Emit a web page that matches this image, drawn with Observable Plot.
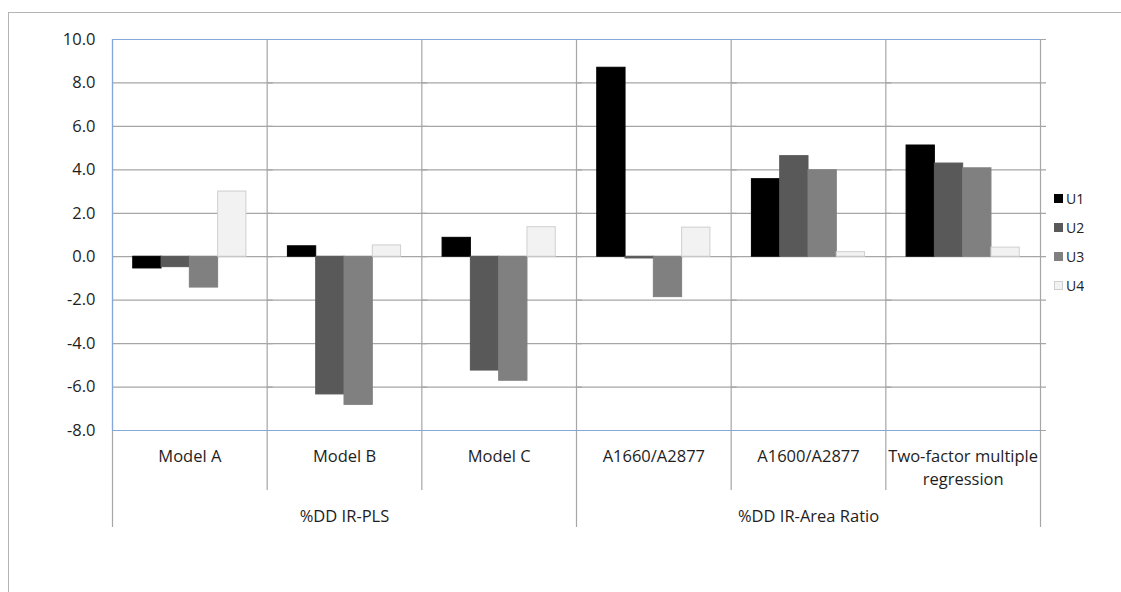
<!DOCTYPE html>
<html><head><meta charset="utf-8">
<script src="https://cdn.jsdelivr.net/npm/d3@7"></script>
<script src="https://cdn.jsdelivr.net/npm/@observablehq/plot@0.6"></script>
<style>
html,body{margin:0;padding:0;background:#fff;overflow:hidden;}
#wrap{position:relative;width:1121px;height:592px;overflow:hidden;font-family:"Open Sans",sans-serif;}
#border{position:absolute;left:8px;top:12px;width:1300px;height:800px;border:1px solid #b4b4b4;box-sizing:border-box;}
#chart{position:absolute;left:0;top:0;}
#legend{position:absolute;left:1054px;top:184px;}
.lg-swatches{margin:0 !important;padding:0 !important;min-height:0 !important;}
.lg-swatch{height:29px;display:flex;align-items:center;padding:0 !important;font-size:14px;color:#222;font-family:"Open Sans",sans-serif;}
.lg-swatch svg{margin-right:3px !important;}
.lg-swatch:last-child svg{outline:1px solid #cfcfcf;outline-offset:-1px;}
</style></head>
<body><div id="wrap"><div id="border"></div><div id="chart"></div><div id="legend"></div></div>
<script>
// ---- data ----
const categories = ["Model A", "Model B", "Model C", "A1660/A2877", "A1600/A2877", "Two-factor multiple regression"];
const categoryLabels = ["Model A", "Model B", "Model C", "A1660/A2877", "A1600/A2877", "Two-factor multiple\nregression"];
const groupOf = ["%DD IR-PLS", "%DD IR-PLS", "%DD IR-PLS", "%DD IR-Area Ratio", "%DD IR-Area Ratio", "%DD IR-Area Ratio"];
const series = ["U1", "U2", "U3", "U4"];
const U1 = [-0.54, 0.48, 0.87, 8.70, 3.57, 5.12];
const U2 = [-0.48, -6.34, -5.24, -0.08, 4.63, 4.29];
const U3 = [-1.42, -6.82, -5.71, -1.86, 3.98, 4.07];
const U4 = [3.00, 0.52, 1.36, 1.34, 0.21, 0.42];
const yTicks = [-8, -6, -4, -2, 0, 2, 4, 6, 8, 10];

// ---- styles ----
const seriesColors = ["#000000", "#595959", "#808080", "#f2f2f2"];
const seriesStrokes = ["#000000", "#595959", "#808080", "#cfcfcf"];
const gridColor = "#a6a6a6";
const axisBlue = "#86a8d8";
const textColor = "#1e1e1e";
const xPad = 0.733;
const xDomain = [-xPad, series.length + xPad];

// ---- derived tables ----
const values = {U1, U2, U3, U4};
const rows = categories.flatMap((c, ci) => series.map((s, si) => ({category: c, series: s, i: si, value: values[s][ci]})));
const groups = Array.from(new Set(groupOf));
const groupRows = groups.map(g => {
  const members = categories.filter((c, i) => groupOf[i] === g);
  return {name: g, mid: members[Math.floor(members.length / 2)]};
});
const innerEdges = categories.filter((c, i) => i > 0 && groupOf[i] === groupOf[i - 1]).map(c => ({category: c, edge: xDomain[0]}));
const groupEdges = categories.filter((c, i) => i === 0 || groupOf[i] !== groupOf[i - 1]).map(c => ({category: c, edge: xDomain[0]}))
  .concat([{category: categories[categories.length - 1], edge: xDomain[1]}]);

const chart = Plot.plot({
  width: 1121,
  height: 592,
  marginLeft: 112,
  marginRight: 81,
  marginTop: 39,
  marginBottom: 162,
  style: {fontFamily: "Open Sans", fontSize: "16.5px", color: textColor, background: "transparent", overflow: "visible"},
  fx: {domain: categories, padding: 0, round: false, label: null},
  x: {domain: xDomain, axis: null, round: false},
  y: {domain: [-8, 10], label: null},
  color: {domain: series, range: seriesColors},
  marks: [
    Plot.ruleY(yTicks, {stroke: gridColor, strokeWidth: 1.2, insetRight: -6}),
    Plot.ruleX(innerEdges, {fx: "category", x: "edge", stroke: gridColor, strokeWidth: 1.2, insetBottom: -60}),
    Plot.ruleX(groupEdges, {fx: "category", x: "edge", stroke: gridColor, strokeWidth: 1.2, insetBottom: -97}),
    Plot.rect(rows, {fx: "category", x1: "i", x2: d => d.i + 1, y1: 0, y2: "value", fill: "series", stroke: d => seriesStrokes[d.i], strokeWidth: 1}),
    Plot.ruleY([yTicks[0], yTicks[yTicks.length - 1]], {stroke: axisBlue, strokeWidth: 1.2}),
    Plot.ruleX([{category: categories[0], edge: xDomain[0]}], {fx: "category", x: "edge", stroke: axisBlue, strokeWidth: 1.2}),
    Plot.axisY({ticks: yTicks, tickFormat: d => d.toFixed(1), tickSize: 0, tickPadding: 17, fontSize: 16.5, fill: textColor, label: null}),
    Plot.axisFx({anchor: "bottom", tickSize: 0, tickPadding: 14, tickFormat: d => categoryLabels[categories.indexOf(d)], lineHeight: 1.45, fontSize: 16.5, fill: textColor, label: null}),
    Plot.text(groupRows, {fx: "mid", text: "name", frameAnchor: "bottom", lineAnchor: "top", dy: 80, fontSize: 16.5, fill: textColor})
  ]
});
document.getElementById("chart").appendChild(chart);

const legend = Plot.legend({
  color: {type: "ordinal", domain: series, range: seriesColors},
  columns: 1,
  swatchSize: 9,
  className: "lg"
});
document.getElementById("legend").appendChild(legend);
</script>
</body></html>
